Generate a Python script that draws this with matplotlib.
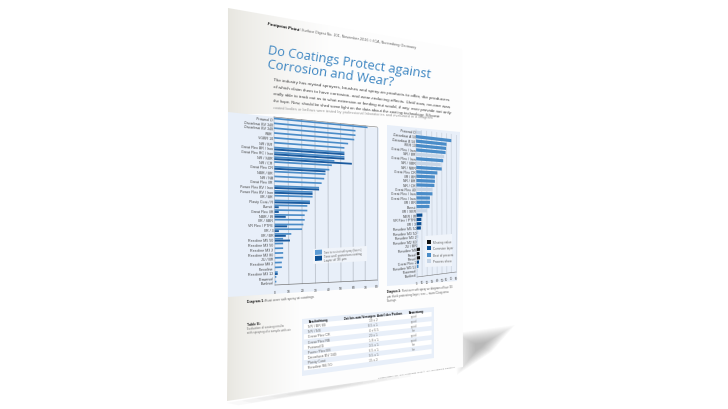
import numpy as np
import matplotlib
matplotlib.use('Agg')
import matplotlib.pyplot as plt
from matplotlib.font_manager import FontProperties
from matplotlib.patches import Polygon
from matplotlib.textpath import TextPath
from matplotlib.transforms import Transform

# left chart
left_labels = ['Prawnol D', 'Dacarbazi BV 340', 'Dacarbazi BV 340', 'RBR', 'VGBR 10', 'NR / BR',
               'Great Flex BR / Iron', 'Great Flex RC / Iron', 'NR / SBR', 'NR / CR', 'Great Flex CR',
               'NBR / BR', 'NR / NB', 'Great Flex IIR', 'Power Flex BV / Iron', 'Power Flex BV / Iron',
               'IIR / BR', 'Plasty Coat / R', 'Bunsit', 'Great Flex IIR', 'NBR / IR', 'IIR / SBR',
               'VR Flex / PTFE', 'IIR / 3', 'IIR / BR', 'Resoline M5 50', 'Resoline M3 50',
               'Resoline M3 2', 'Resoline M2 80', 'JU / BR', 'Resoline M8 2', 'Flexoline',
               'Resoline M3 12', 'Prawnsol', 'Bunksol']
left_light = [72, 62, 62, 61, 56, 53, 53, 53, 45, 43, 41, 38, 37, 35, 33, 28, 28, 26, 24, 24, 22, 22,
              21, 20, 12, 6, 6, 6, 6, 6, 5, 5, 2, 1, 1]
left_dark = [0, 0, 0, 0, 0, 0, 53, 53, 59, 0, 38, 0, 0, 0, 33, 28, 0, 26, 3, 3, 8, 0, 9, 3, 8, 11, 0,
             0, 0, 0, 0, 0, 2, 0, 0]
left_ticks = [0, 10, 20, 30, 40, 50, 60, 70, 80]

# right chart
right_labels = ['Prawnol D', 'Dacarbazi A 50', 'Dacarbazi B 50', 'RBR 10', 'Great Flex / Iron', 'NR / BR',
                'Great Flex / Iron', 'NR / SBR', 'NR / NBR', 'Great Flex CR', 'IIR / BR', 'NR / BR',
                'NR / CR', 'Great Flex 40', 'Great Flex / Iron', 'Great Flex / Iron', 'IIR / BR', 'Bunsit',
                'IIR / SBR', 'NBR / IR', 'VR Flex / PTFE', 'IIR / 3', 'Resoline M5 50', 'Resoline M3 50',
                'Resoline M3 2', 'Resoline M2 80', 'JU / BR', 'Resoline M8', 'Flexol', 'Resol',
                'Great Flex 2', 'Resoline M3 12', 'Prawnsol', 'Bunksol']
right_values = [11, 70, 60, 59, 58, 55, 53, 48, 50, 41, 36, 36, 35, 31, 31, 26, 26, 25, 20, 11, 9, 9,
                8, 3, 3, 2, 2, 6, 5, 6, 4, 3, 1, 1]
right_kinds = [3, 2, 2, 2, 2, 3, 2, 3, 2, 2, 2, 2, 2, 3, 2, 2, 2, 2, 3, 1, 1, 1, 1, 3, 3, 3, 3, 0, 0, 0,
               1, 2, 3, 3]
right_ticks = [0, 10, 20, 30, 40, 50, 60, 70, 80]
kind_colors = ['#111111', '#0b4f94', '#4a8cc8', '#c7d5e6']

# table
table_head = ['Beschichtung', 'Zeit bis zum Versagen', 'Anteil der Proben', 'Bewertung']
table_coat = ['NR / BR 80', 'NR / NB', 'Great Flex CR', 'Great Flex RB', 'Prawnol D', 'Power Flex BV',
              'Dacarbazi BV 340', 'Plasty Coat', 'Resoline M5 50']
table_time = ['10 ± 2', '8.5 ± 1', '4 ± 0.5', '20 ± 1', '1.8 ± 1', '3.5 ± 1', '6.5 ± 1', '9.5 ± 1', '15 ± 2']
table_share = ['good', 'good', 'good', 'fair', 'good', 'good', 'fair', 'fair', '']
table_rows = 10

title_color = '#3f87c2'
panel_color = '#e8eff9'


class Persp(Transform):
    input_dims = 2
    output_dims = 2

    def __init__(self, src, dst):
        super().__init__()
        A, b = [], []
        for (x, y), (u, v) in zip(src, dst):
            A.append([x, y, 1, 0, 0, 0, -u * x, -u * y])
            A.append([0, 0, 0, x, y, 1, -v * x, -v * y])
            b += [u, v]
        self.m = np.append(np.linalg.solve(np.array(A, float), np.array(b, float)), 1).reshape(3, 3)

    def transform_non_affine(self, values):
        pts = np.column_stack([values, np.ones(len(values))]) @ self.m.T
        return pts[:, :2] / pts[:, 2:]


def corners(x0, x1, y0, y1):
    return [(x0, y0), (x1, y0), (x1, y1), (x0, y1)]


def line_text(s, p0, p1, color='#444444', weight='normal', family='Liberation Sans'):
    """text from p0 to p1 in pixels, font size fitted so it spans that distance"""
    dist = np.hypot(p1[0] - p0[0], p1[1] - p0[1])
    prop = FontProperties(family=family, weight=weight)
    ext = TextPath((0, 0), s, size=10, prop=prop).get_extents()
    size = 10 * dist / ext.width * 0.72
    ang = -np.degrees(np.arctan2(p1[1] - p0[1], p1[0] - p0[0]))
    ax.text(p0[0], p0[1], s, color=color, fontsize=size, fontweight=weight, family=family,
            rotation=ang, rotation_mode='anchor', ha='left', va='baseline', zorder=12)


def chart_text(T, x, y, s, ha='right', size=2.6, color='#444444', weight='normal', family='Liberation Sans'):
    p, q = T.transform(np.array([[x, y], [x + 1, y]], float))
    ang = -np.degrees(np.arctan2(q[1] - p[1], q[0] - p[0]))
    ax.text(p[0], p[1], s, ha=ha, va='center', fontsize=size, color=color, fontweight=weight, family=family,
            rotation=ang, rotation_mode='anchor', zorder=12)


def soft_poly(pts, steps, total, color='#666666', z=1):
    """blurry polygon: stacked shrinking copies around the middle"""
    pts = np.array(pts, float)
    mid = pts.mean(axis=0)
    for k in range(steps):
        f = 1.15 - 1.0 * k / steps
        ax.add_patch(Polygon(mid + (pts - mid) * f, closed=True, fc=color, ec='none', alpha=total / steps, zorder=z))


fig = plt.figure(figsize=(7.28, 4.1), dpi=100)
ax = fig.add_axes([0, 0, 1, 1])
ax.axis('off')

# shadows under the page
soft_poly([(458, 336), (510, 329), (490, 352), (460, 372)], 14, 0.55)
soft_poly([(240, 402), (340, 384), (400, 375), (400, 379), (340, 390), (250, 404)], 6, 0.22)

# page
page = [(228, 9), (462, 50), (463, 368), (227, 402)]
ax.add_patch(Polygon(page, closed=True, fc='#fdfdfd', ec='none', zorder=2))

# page curl shading, grey on the left fading to white
shade = np.linspace(0, 1, 120) ** 0.7
shade_rgb = np.ones((1, 120, 3))
for c, v in enumerate([0.905, 0.9, 0.875]):
    shade_rgb[0, :, c] = v + (0.993 - v) * shade
im1 = ax.imshow(shade_rgb, extent=(228, 330, 115, 5), aspect='auto', zorder=3, interpolation='bilinear')
im1.set_clip_path(Polygon([(228, 9), (330, 27), (330, 125), (228, 115)], closed=True, transform=ax.transData))
im2 = ax.imshow(shade_rgb, extent=(227, 300, 403, 295), aspect='auto', zorder=3, interpolation='bilinear')
im2.set_clip_path(Polygon([(228, 297), (300, 292), (300, 391), (227, 402)], closed=True, transform=ax.transData))

# header, title, intro
line_text('Footprint Point', (267, 25), (298, 31), color='#111111', weight='bold')
line_text('/ Surface Digest No. 101, November 2016 © ICA, Nuremberg Germany', (299, 31), (417, 49), color='#666666')
line_text('Do Coatings Protect against', (267, 54), (428, 78), color=title_color, family='Open Sans')
line_text('Corrosion and Wear?', (267, 68), (392, 86), color=title_color, family='Open Sans')
line_text('The industry has myriad sprayers, brushes and spray-on products to offer, the producers', (273, 81), (447, 101))
line_text('of which claim them to have corrosion- and wear-reducing effects. Until now, no-one was', (273, 88), (447, 108))
line_text('really able to track out as to what extension or feeding out would, if any, ever provide not only', (273, 95), (450, 114))
line_text('the hope. Now, should be shed some light on the data about the coating technology. Silicone', (273, 102), (443, 118))
line_text('coated bodies or bellows were tested by professional laboratories and evaluated in a Diagram', (273, 109), (433, 119), color='#999999')

# left chart
ax.add_patch(Polygon([(228, 113), (379, 129), (379, 288), (228, 298)], closed=True, fc=panel_color, ec='none', zorder=4))
n = len(left_labels)
T1 = Persp(corners(0, 80, -0.5, n - 0.5), [(274, 118), (377, 128), (377, 281), (275, 286)])
tr1 = T1 + ax.transData
for t in left_ticks:
    ax.plot([t, t], [-0.5, n - 0.5], color='#c2c9d3', lw=0.7, transform=tr1, zorder=5)
ax.plot([0, 80], [n - 0.5, n - 0.5], color='#777777', lw=0.5, transform=tr1, zorder=7)
ax.plot([0, 80], [-0.5, -0.5], color='#777777', lw=0.4, transform=tr1, zorder=7)
rows = np.arange(n)
ax.barh(rows - 0.2, left_light, height=0.36, color='#4a8cc8', transform=tr1, zorder=6)
ax.barh(rows + 0.2, left_dark, height=0.4, color='#1a5a9e', transform=tr1, zorder=6)
for i, s in enumerate(left_labels):
    chart_text(T1, -1, i, s)
for t in left_ticks:
    chart_text(T1, t, n + 0.9, str(t), ha='center', size=2.4)
ax.add_patch(Polygon([(313, 250), (367, 247), (367, 262), (313, 265)], closed=True, fc='#f0f4fa', ec='none', zorder=8))
ax.add_patch(Polygon([(315, 251), (322, 250.6), (322, 255.4), (315, 256)], closed=True, fc='#5b9bd5', ec='none', zorder=9))
ax.add_patch(Polygon([(315, 257), (322, 256.6), (322, 261.4), (315, 262)], closed=True, fc='#0b4f94', ec='none', zorder=9))
line_text('Time to rust at salt spray (hours)', (324, 254), (362, 251), color='#777777')
line_text('Time until protection coating', (324, 258), (362, 255), color='#666666')
line_text('Layer of 30 µm', (324, 262), (346, 260), color='#666666')

# right chart
ax.add_patch(Polygon([(387, 126), (460, 133), (457, 282), (387, 287)], closed=True, fc=panel_color, ec='none', zorder=4))
m = len(right_labels)
T2 = Persp(corners(0, 80, -0.5, m - 0.5), [(416, 131), (456, 136), (456, 273), (417, 278)])
tr2 = T2 + ax.transData
for t in right_ticks:
    ax.plot([t, t], [-0.5, m - 0.5], color='#d3dae4', lw=0.7, transform=tr2, zorder=5)
ax.plot([0, 80], [m - 0.5, m - 0.5], color='#777777', lw=0.4, transform=tr2, zorder=7)
rows2 = np.arange(m)
ax.barh(rows2, right_values, height=0.75, color=[kind_colors[k] for k in right_kinds], transform=tr2, zorder=6)
for i, s in enumerate(right_labels):
    chart_text(T2, -1, i, s, size=2.4)
for t in right_ticks:
    chart_text(T2, t, m + 0.9, str(t), ha='center', size=2.2)
ax.add_patch(Polygon([(425, 237), (452, 235), (452, 267), (425, 268)], closed=True, fc='#f0f4fa', ec='none', zorder=8))
for k, (yy, lab) in enumerate(zip([241, 247, 254, 260], ['Missing value', 'Corrosion layer', 'Best of present', 'Process show'])):
    ax.add_patch(Polygon([(427, yy), (431, yy), (431, yy + 4), (427, yy + 4)], closed=True, fc=kind_colors[k], ec='none', zorder=9))
    ax.text(433, yy + 2, lab, fontsize=2.2, color='#666666', va='center', rotation=2, family='Liberation Sans', zorder=12)

# captions
line_text('Diagram 1:', (247, 303), (264, 302), color='#111111', weight='bold')
line_text('Rust over salt spray at coatings', (265, 302), (313, 298), color='#666666')
line_text('Diagram 2:', (387, 293), (401, 292), color='#111111', weight='bold')
line_text('Rust over salt spray on diagram of four 30', (402, 292), (453, 288), color='#666666')
line_text('µm thick protecting layer, see – more Diagrams', (387, 298), (448, 293), color='#666666')
line_text('Coatings', (387, 302), (397, 301), color='#666666')
line_text('Table B:', (247, 326), (260, 325), color='#222222', weight='bold')
line_text('Evaluation of coating results', (247, 330), (283, 327), color='#777777')
line_text('with spraying of a sample with air', (247, 334), (290, 331), color='#777777')
line_text('Surface Digest No. 101, November 2016 © ICA, Nuremberg Germany', (378, 379), (454, 368), color='#888888')

# table
T3 = Persp(corners(0, 4, -0.5, table_rows + 0.5), [(302, 320), (434, 308), (434, 359), (302, 377)])
tr3 = T3 + ax.transData
ax.barh([table_rows / 2], [4], height=table_rows + 1, color=panel_color, transform=tr3, zorder=4)
for i in range(1, table_rows + 1, 2):
    ax.barh([i], [3.87], left=0.05, height=1, color='white', transform=tr3, zorder=5)
col_x = [0.17, 1.16, 2.17, 3.17]
for x, s in zip(col_x, table_head):
    chart_text(T3, x, 0, s, ha='left', size=2.2, color='#111111', weight='bold')
for i, (c, t, sh) in enumerate(zip(table_coat, table_time, table_share)):
    chart_text(T3, col_x[0], i + 1, c, ha='left', size=2.5, color='#666666')
    chart_text(T3, 2.05, i + 1, t, ha='center', size=2.3, color='#777777')
    chart_text(T3, 3.33, i + 1, sh, ha='center', size=2.2, color='#888888')

ax.set_xlim(0, 728)
ax.set_ylim(410, 0)
fig.savefig('out.png', dpi=100, facecolor='white')
